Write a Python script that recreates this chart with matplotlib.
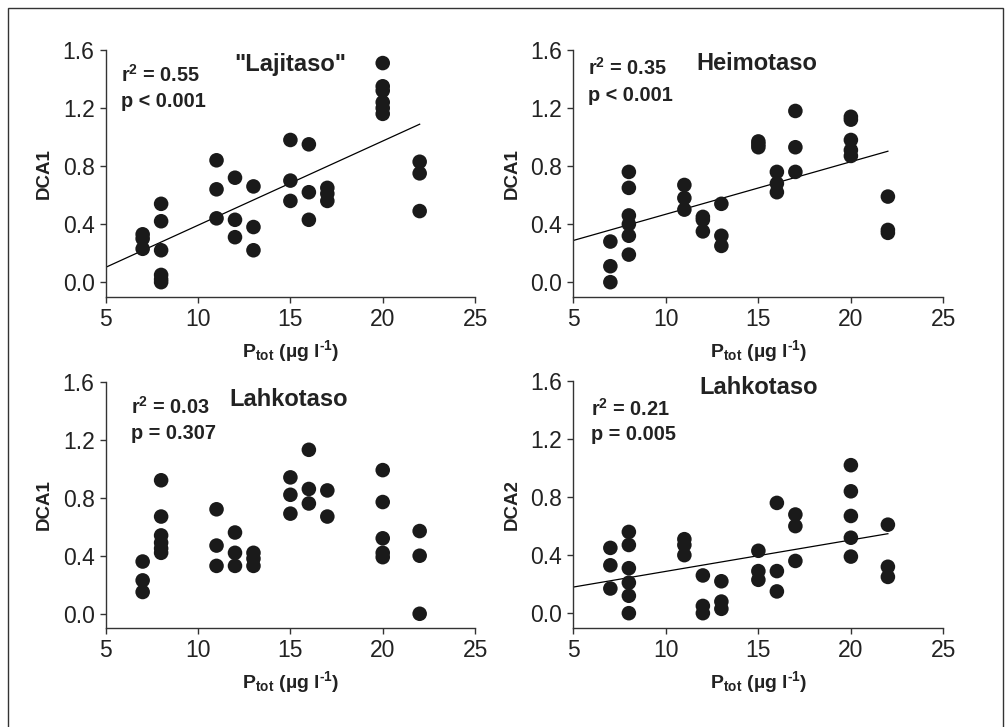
import numpy as np
import matplotlib
matplotlib.use("Agg")
import matplotlib.pyplot as plt
from matplotlib.patches import Rectangle

plt.rcParams["font.family"] = ["Liberation Sans", "DejaVu Sans"]
plt.rcParams["mathtext.fontset"] = "custom"
plt.rcParams["mathtext.rm"] = "Liberation Sans"
plt.rcParams["mathtext.bf"] = "Liberation Sans:bold"
plt.rcParams["mathtext.it"] = "Liberation Sans:italic"

# total phosphorus (ug/l) and DCA scores per sample
ptot_1 = [7, 7, 7, 8, 8, 8, 8, 8, 8, 11, 11, 11, 12, 12, 12, 13, 13, 13,
          15, 15, 15, 16, 16, 16, 17, 17, 17, 20, 20, 20, 20, 20, 20, 22, 22, 22]
dca_laji = [0.33, 0.30, 0.23, 0.54, 0.42, 0.22, 0.05, 0.02, 0.0,
            0.84, 0.64, 0.44, 0.72, 0.43, 0.31, 0.66, 0.38, 0.22,
            0.98, 0.70, 0.56, 0.95, 0.62, 0.43, 0.65, 0.61, 0.56,
            1.51, 1.35, 1.32, 1.24, 1.20, 1.16, 0.83, 0.75, 0.49]

ptot_2 = [7, 7, 7, 8, 8, 8, 8, 8, 8, 11, 11, 11, 12, 12, 12, 13, 13, 13,
          15, 15, 15, 16, 16, 16, 17, 17, 17, 20, 20, 20, 20, 20, 22, 22, 22]
dca_heimo = [0.28, 0.11, 0.0, 0.76, 0.65, 0.46, 0.40, 0.32, 0.19,
             0.67, 0.58, 0.50, 0.45, 0.43, 0.35, 0.54, 0.32, 0.25,
             0.97, 0.95, 0.93, 0.76, 0.68, 0.62, 1.18, 0.93, 0.76,
             1.14, 1.12, 0.98, 0.91, 0.87, 0.59, 0.36, 0.34]

ptot_3 = [7, 7, 7, 8, 8, 8, 8, 8, 8, 11, 11, 11, 12, 12, 12, 13, 13, 13,
          15, 15, 15, 16, 16, 16, 17, 17, 20, 20, 20, 20, 20, 22, 22, 22]
dca_lahko1 = [0.36, 0.23, 0.15, 0.92, 0.67, 0.54, 0.49, 0.45, 0.42,
              0.72, 0.47, 0.33, 0.56, 0.42, 0.33, 0.42, 0.38, 0.33,
              0.94, 0.82, 0.69, 1.13, 0.86, 0.76, 0.85, 0.67,
              0.99, 0.77, 0.52, 0.42, 0.39, 0.57, 0.40, 0.0]

ptot_4 = [7, 7, 7, 8, 8, 8, 8, 8, 8, 11, 11, 11, 12, 12, 12, 13, 13, 13,
          15, 15, 15, 16, 16, 16, 17, 17, 17, 20, 20, 20, 20, 20, 22, 22, 22]
dca_lahko2 = [0.45, 0.33, 0.17, 0.56, 0.47, 0.31, 0.21, 0.12, 0.0,
              0.51, 0.47, 0.40, 0.26, 0.05, 0.0, 0.22, 0.08, 0.03,
              0.43, 0.29, 0.23, 0.76, 0.29, 0.15, 0.68, 0.60, 0.36,
              1.02, 0.84, 0.67, 0.52, 0.39, 0.61, 0.32, 0.25]

titles = ['"Lajitaso"', "Heimotaso", "Lahkotaso", "Lahkotaso"]
ylabels = ["DCA1", "DCA1", "DCA1", "DCA2"]
r2_text = ["0.55", "0.35", "0.03", "0.21"]
p_text = ["p < 0.001", "p < 0.001", "p = 0.307", "p = 0.005"]
show_fit = [True, True, False, True]

xs = [ptot_1, ptot_2, ptot_3, ptot_4]
ys = [dca_laji, dca_heimo, dca_lahko1, dca_lahko2]

# axes rectangles [left, bottom, width, height] in figure fractions
boxes = [[0.1052, 0.5919, 0.3675, 0.3393],
         [0.5705, 0.5919, 0.3682, 0.3393],
         [0.1052, 0.1358, 0.3675, 0.3393],
         [0.5705, 0.1366, 0.3682, 0.3393]]
stat_pos = [(0.041, 0.870, 0.769), (0.039, 0.898, 0.794),
            (0.068, 0.869, 0.768), (0.048, 0.861, 0.760)]
title_pos = [(0.50, 0.943), (0.496, 0.947), (0.494, 0.926), (0.50, 0.975)]

ink = "#222222"

fig = plt.figure(figsize=(10.05, 7.27), dpi=100)
fig.patches.append(Rectangle((0.008, -0.05), 0.990, 1.039, transform=fig.transFigure,
                             fill=False, edgecolor="#333333", linewidth=1.0))

for i in range(4):
    ax = fig.add_axes(boxes[i])
    x = np.array(xs[i], dtype=float)
    y = np.array(ys[i], dtype=float)

    if show_fit[i]:
        slope, icpt = np.polyfit(x, y, 1)
        xl = np.array([5, 22])
        ax.plot(xl, icpt + slope * xl, color="black", lw=0.9, zorder=2)

    ax.scatter(x, y, s=110, color="#1a1a1a", edgecolors="none", zorder=3)

    ax.set_xlim(5, 25)
    ax.set_ylim(-0.1, 1.6)
    ax.set_xticks([5, 10, 15, 20, 25])
    ax.set_yticks([0.0, 0.4, 0.8, 1.2, 1.6])
    ax.set_yticklabels(["0.0", "0.4", "0.8", "1.2", "1.6"])
    for side in ["top", "right"]:
        ax.spines[side].set_visible(False)
    for side in ["left", "bottom"]:
        ax.spines[side].set_color("#333333")
        ax.spines[side].set_linewidth(1.0)
    ax.tick_params(direction="out", length=4, width=1.0, color="#333333",
                   labelsize=16.5, labelcolor=ink, pad=4)

    ax.set_xlabel("$\\mathbf{P_{tot}}$ $\\mathbf{(µg\\ l^{\u20101})}$", fontsize=14,
                  color=ink, labelpad=5)
    ax.set_ylabel(ylabels[i], fontsize=13.5, fontweight="bold", color=ink, labelpad=7)

    sx, sy1, sy2 = stat_pos[i]
    ax.text(sx, sy1, r"$\mathbf{r^2}$ = " + r2_text[i], transform=ax.transAxes,
            fontsize=14.3, fontweight="bold", color=ink, va="baseline")
    ax.text(sx, sy2, p_text[i], transform=ax.transAxes,
            fontsize=14.3, fontweight="bold", color=ink, va="baseline")
    tx, ty = title_pos[i]
    ax.text(tx, ty, titles[i], transform=ax.transAxes, fontsize=17,
            fontweight="bold", color=ink, ha="center", va="center")

fig.savefig("out.png", dpi=100)
